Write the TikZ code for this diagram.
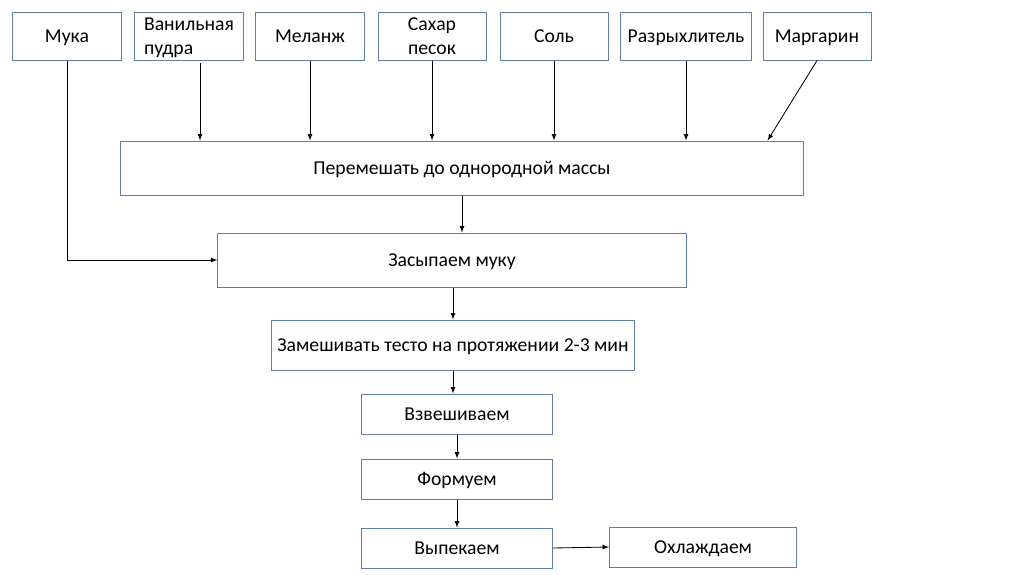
\documentclass[tikz,border=0pt]{standalone}
\usepackage{fontspec}
\setmainfont{Carlito}
\usepackage{xcolor}
\usetikzlibrary{arrows.meta}
\definecolor{boxline}{RGB}{95,125,165}

\begin{document}
\begin{tikzpicture}[x=0.025cm,y=-0.025cm,
                box/.style={draw=boxline, line width=0.7pt, fill=white, inner xsep=2pt, inner ysep=0pt,
                            text depth=0pt, font=\fontsize{14}{17}\selectfont},
                top/.style={box, minimum width=2.7cm, minimum height=1.2cm},
                arr/.style={-latex, line width=0.6pt, black}]
                \useasboundingbox (0,0) rectangle (1024,574);
                \node[top] (muka) at (67,36) {Мука};
                \node[top, align=left] (van) at (189,36) {Ванильная\\пудра};
                \node[top] (mel) at (310,36) {Меланж};
                \node[top, align=center] (sah) at (432,36) {Сахар\\песок};
                \node[top] (sol) at (554,36) {Соль};
                \node[top, minimum width=3.275cm] (raz) at (686,36) {Разрыхлитель};
                \node[top] (mar) at (817,36) {Маргарин};
                \node[box, minimum width=17.05cm, minimum height=1.35cm] (mix) at (462,168) {Перемешать до однородной массы};
                \node[box, minimum width=11.7cm, minimum height=1.35cm] (zas) at (452,260) {Засыпаем муку};
                \node[box, minimum width=9.05cm, minimum height=1.25cm] (zam) at (453,345) {Замешивать тесто на протяжении 2-3 мин};
                \node[box, minimum width=4.75cm, minimum height=1cm] (vzv) at (457,414) {Взвешиваем};
                \node[box, minimum width=4.75cm, minimum height=1cm] (form) at (457,479) {Формуем};
                \node[box, minimum width=4.75cm, minimum height=1cm] (vyp) at (457,548) {Выпекаем};
                \node[box, minimum width=4.675cm, minimum height=1cm] (ohl) at (703,547) {Охлаждаем};
                \draw[line width=0.6pt] (muka.south) -- (muka.south |- zas.west);
                \draw[arr] (muka.south |- zas.west) -- (zas.west);
                \draw[arr, shorten <=2pt] ([xshift=0.275cm]van.south) -- ([xshift=0.275cm]van.south |- mix.north);
                \draw[arr] (mel.south) -- (mel.south |- mix.north);
                \draw[arr] (sah.south) -- (sah.south |- mix.north);
                \draw[arr] (sol.south) -- (sol.south |- mix.north);
                \draw[arr] (raz.south) -- (raz.south |- mix.north);
                \draw[arr] (mar.south) -- ([xshift=-0.9cm]mix.north east);
                \draw[arr] (mix.south) -- (mix.south |- zas.north);
                \draw[arr] (zam.north |- zas.south) -- (zam.north);
                \draw[arr] (zam.south) -- (zam.south |- vzv.north);
                \draw[arr] (vzv.south) -- (form.north);
                \draw[arr] (form.south) -- (vyp.north);
                \draw[arr] (vyp.east) -- (ohl.west);
            \end{tikzpicture}
\end{document}
